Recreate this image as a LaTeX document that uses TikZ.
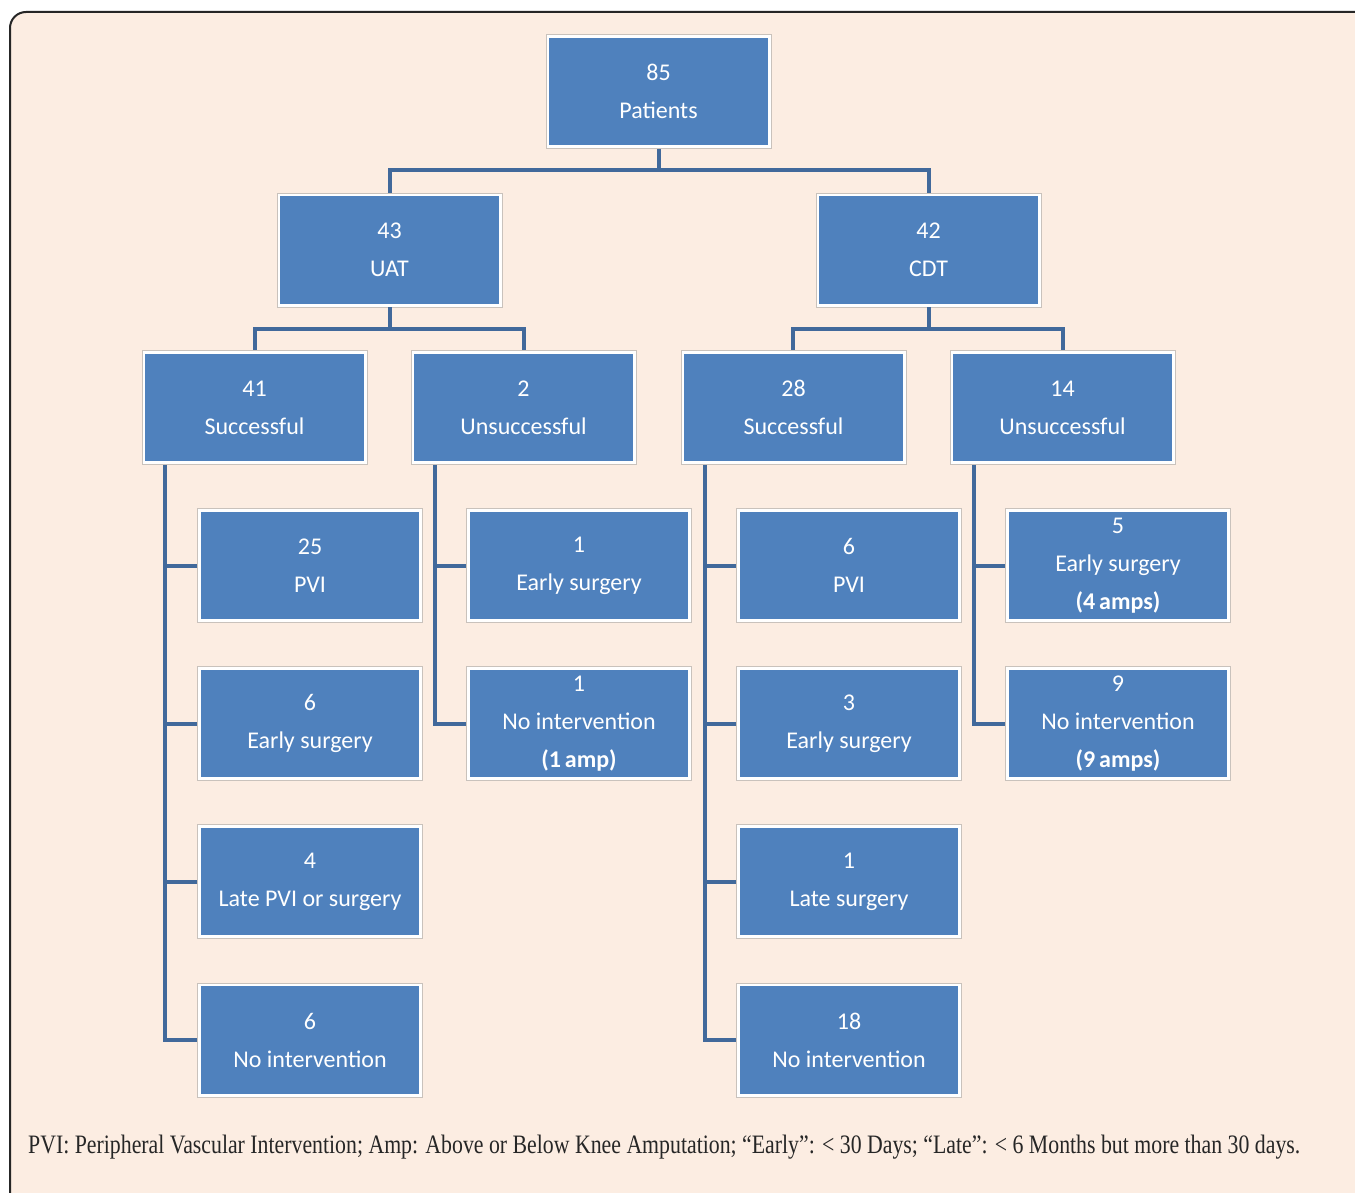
\documentclass[tikz,border=0pt]{standalone}
\usepackage{fontspec}
\setmainfont{Carlito}
\newfontfamily\capfont{Liberation Serif}
\definecolor{bgc}{HTML}{FCEDE2}
\definecolor{boxblue}{HTML}{4F81BD}
\definecolor{linec}{HTML}{41699B}
\definecolor{framegray}{HTML}{C9C2BC}
\definecolor{framedark}{HTML}{262626}
\tikzset{
  bx/.style={rectangle, minimum width=225pt, minimum height=114pt, inner sep=0pt,
    fill=white, draw=framegray, line width=0.8pt, text=white, align=center,
    font=\fontsize{24}{38}\selectfont,
    path picture={\fill[boxblue] ([shift={(3.2pt,-3.2pt)}]path picture bounding box.north west) rectangle ([shift={(-3.2pt,3.2pt)}]path picture bounding box.south east);}},
  conn/.style={draw=linec, line width=4pt},
}
\begin{document}
\begin{tikzpicture}[x=1pt,y=-1pt]
\useasboundingbox (0,0) rectangle (1355,1193);
\clip (0,0) rectangle (1355,1193);
\fill[white] (0,0) rectangle (1355,1193);
\draw[rounded corners=16pt, fill=bgc, draw=framedark, line width=2pt] (10,12) rectangle (1380,1220);

\node[bx] (pat) at (658.5,91.5) {85\\Patients};
\node[bx] (uat) at (389.5,250) {43\\UAT};
\node[bx] (cdt) at (928.5,250) {42\\CDT};
\node[bx] (s1) at (254.5,407.5) {41\\Successful};
\node[bx] (u1) at (523.5,407.5) {2\\Unsuccessful};
\node[bx] (s2) at (793.5,407.5) {28\\Successful};
\node[bx] (u2) at (1062.5,407.5) {14\\Unsuccessful};

\node[bx] (a1) at (310,565.5) {25\\PVI};
\node[bx] (a2) at (310,723.5) {6\\Early surgery};
\node[bx] (a3) at (310,881.5) {4\\Late PVI or surgery};
\node[bx] (a4) at (310,1040) {6\\No intervention};

\node[bx] (b1) at (579,565.5) {1\\Early surgery};
\node[bx] (b2) at (579,723.5) {1\\No intervention\\\textbf{(1\,amp)}};

\node[bx] (c1) at (849,565.5) {6\\PVI};
\node[bx] (c2) at (849,723.5) {3\\Early surgery};
\node[bx] (c3) at (849,881.5) {1\\Late surgery};
\node[bx] (c4) at (849,1040) {18\\No intervention};

\node[bx] (d1) at (1118,565.5) {5\\Early surgery\\\textbf{(4\,amps)}};
\node[bx] (d2) at (1118,723.5) {9\\No intervention\\\textbf{(9\,amps)}};

% connectors
\draw[conn] (pat.south) -- ++(0,21.5) coordinate (h0) -| (uat.north);
\draw[conn] (h0) -| (cdt.north);
\draw[conn] (uat.south) -- ++(0,21.5) coordinate (h1) -| ([xshift=0.5pt]s1.north);
\draw[conn] (h1) -| ([xshift=0.5pt]u1.north);
\draw[conn] (cdt.south) -- ++(0,21.5) coordinate (h2) -| ([xshift=-0.5pt]s2.north);
\draw[conn] (h2) -| ([xshift=0.5pt]u2.north);

\coordinate (ta) at ([xshift=-89.5pt]s1.south);
\coordinate (tb) at ([xshift=-88.5pt]u1.south);
\coordinate (tc) at ([xshift=-88.5pt]s2.south);
\coordinate (td) at ([xshift=-88.5pt]u2.south);
\draw[conn] (ta) |- (a4.west);
\foreach \n in {a1,a2,a3} \draw[conn] (\n.west) -- (\n.west -| ta);
\draw[conn] (tb) |- (b2.west);
\draw[conn] (b1.west) -- (b1.west -| tb);
\draw[conn] (tc) |- (c4.west);
\foreach \n in {c1,c2,c3} \draw[conn] (\n.west) -- (\n.west -| tc);
\draw[conn] (td) |- (d2.west);
\draw[conn] (d1.west) -- (d1.west -| td);

\node[anchor=base west, inner sep=0pt, text=black!85] (cap) at (28,1153)
  {\resizebox{1272pt}{!}{\scalebox{1}[1.22]{\capfont\fontsize{22}{26}\selectfont PVI: Peripheral Vascular Intervention; Amp: Above or Below Knee Amputation; “Early”: < 30 Days; “Late”: < 6 Months but more than 30 days.}}};
\end{tikzpicture}
\end{document}
